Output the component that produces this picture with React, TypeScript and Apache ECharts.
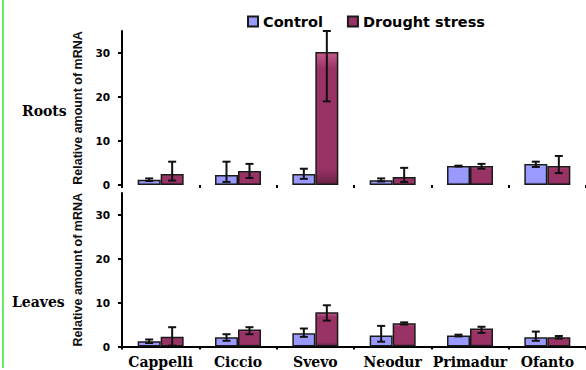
import React, { useEffect, useRef } from "react";
import * as echarts from "echarts";

const categories = ["Cappelli", "Ciccio", "Svevo", "Neodur", "Primadur", "Ofanto"];
const yTicks = [0, 10, 20, 30];

const rootsControl = [1.2, 2.3, 2.5, 1.1, 4.3, 4.8];
const rootsControlHi = [1.5, 5.3, 3.7, 1.5, 4.4, 5.3];
const rootsControlLo = [0.9, 0.7, 1.4, 0.8, 4.2, 4.1];
const rootsDrought = [2.5, 3.2, 30.2, 1.8, 4.3, 4.3];
const rootsDroughtHi = [5.3, 4.8, 35, 3.9, 4.8, 6.6];
const rootsDroughtLo = [1.0, 1.6, 19, 0.7, 3.7, 2.7];

const leavesControl = [1.2, 2.1, 3.0, 2.5, 2.5, 2.1];
const leavesControlHi = [1.6, 2.8, 4.1, 4.7, 2.7, 3.4];
const leavesControlLo = [0.8, 1.3, 2.2, 1.1, 2.3, 1.3];
const leavesDrought = [2.2, 3.9, 7.8, 5.3, 4.1, 2.1];
const leavesDroughtHi = [4.4, 4.4, 9.4, 5.5, 4.5, 2.4];
const leavesDroughtLo = [0.2, 2.8, 5.9, 5.0, 3.1, 1.8];

const BAR_W = 23;

function grad(top: string, base: string, bottom: string) {
  return new echarts.graphic.LinearGradient(0, 0, 0, 1, [
    { offset: 0, color: top },
    { offset: 0.12, color: base },
    { offset: 0.88, color: base },
    { offset: 1, color: bottom },
  ]);
}

const controlStyle = () => ({
  color: grad("#bcbcff", "#9999ff", "#6a6ab8"),
  borderColor: "#1a1a1a",
  borderWidth: 1.5,
});
const droughtStyle = () => ({
  color: grad("#c45a8a", "#993366", "#6a2246"),
  borderColor: "#1a1a1a",
  borderWidth: 1.5,
});

function errSeries(hi: number[], lo: number[], offset: number, idx: number) {
  return {
    type: "custom",
    xAxisIndex: idx,
    yAxisIndex: idx,
    z: 10,
    silent: true,
    data: hi.map((h, i) => [i, h, lo[i]]),
    encode: { x: 0, y: [1, 2] },
    renderItem: (params: any, api: any) => {
      const x = api.value(0);
      const pHi = api.coord([x, api.value(1)]);
      const pLo = api.coord([x, api.value(2)]);
      const cx = pHi[0] + offset;
      const cap = 4;
      const st = { stroke: "#111", lineWidth: 2 };
      return {
        type: "group",
        children: [
          { type: "line", shape: { x1: cx, y1: pHi[1], x2: cx, y2: pLo[1] }, style: st },
          { type: "line", shape: { x1: cx - cap, y1: pHi[1], x2: cx + cap, y2: pHi[1] }, style: st },
          { type: "line", shape: { x1: cx - cap, y1: pLo[1], x2: cx + cap, y2: pLo[1] }, style: st },
        ],
      };
    },
  };
}

function yAxis(idx: number) {
  return {
    type: "value",
    gridIndex: idx,
    min: 0,
    max: 35,
    interval: 5,
    name: "Relative amount of mRNA",
    nameLocation: "middle",
    nameRotate: 90,
    nameGap: 35,
    nameTextStyle: {
      fontFamily: "Liberation Sans",
      fontWeight: "bold",
      fontSize: 12.5,
      color: "#111",
    },
    axisLine: { show: true, lineStyle: { color: "#000", width: 2 } },
    axisTick: { show: true, length: 4, customValues: yTicks, lineStyle: { color: "#000", width: 2 } },
    axisLabel: {
      customValues: yTicks,
      margin: 12,
      fontFamily: "DejaVu Sans",
      fontWeight: "bold",
      fontSize: 10.5,
      color: "#000",
    },
    splitLine: { show: false },
  };
}

export default function App() {
  const ref = useRef<HTMLDivElement>(null);
  useEffect(() => {
    if (!ref.current) return;
    const chart = echarts.init(ref.current, undefined, { renderer: "svg" });
    chart.setOption({
      animation: false,
      backgroundColor: "#ffffff",
      legend: {
        left: 242,
        top: 9,
        icon: "rect",
        itemWidth: 10,
        itemHeight: 10,
        itemGap: 24,
        data: ["Control", "Drought stress"],
        textStyle: {
          fontFamily: "DejaVu Sans",
          fontWeight: "bold",
          fontSize: 14.5,
          color: "#000",
        },
      },
      grid: [
        { left: 122, top: 31, width: 466, height: 154 },
        { left: 122, top: 193, width: 466, height: 153.5 },
      ],
      xAxis: [
        {
          type: "category",
          gridIndex: 0,
          data: categories,
          axisLine: { show: false },
          axisTick: { show: true, length: 3, lineStyle: { color: "#000", width: 2 } },
          axisLabel: { show: false },
        },
        {
          type: "category",
          gridIndex: 1,
          data: categories,
          axisLine: { show: true, lineStyle: { color: "#000", width: 2 } },
          axisTick: { show: true, length: 3, lineStyle: { color: "#000", width: 2 } },
          axisLabel: {
            interval: 0,
            hideOverlap: false,
            margin: 8,
            fontFamily: "DejaVu Serif",
            fontWeight: "bold",
            fontSize: 14,
            color: "#000",
          },
        },
      ],
      yAxis: [yAxis(0), yAxis(1)],
      series: [
        {
          name: "Control",
          type: "bar",
          xAxisIndex: 0,
          yAxisIndex: 0,
          data: rootsControl,
          barWidth: BAR_W,
          barGap: "0%",
          itemStyle: controlStyle(),
        },
        {
          name: "Drought stress",
          type: "bar",
          xAxisIndex: 0,
          yAxisIndex: 0,
          data: rootsDrought,
          barWidth: BAR_W,
          barGap: "0%",
          itemStyle: droughtStyle(),
        },
        {
          name: "Control",
          type: "bar",
          xAxisIndex: 1,
          yAxisIndex: 1,
          data: leavesControl,
          barWidth: BAR_W,
          barGap: "0%",
          itemStyle: controlStyle(),
        },
        {
          name: "Drought stress",
          type: "bar",
          xAxisIndex: 1,
          yAxisIndex: 1,
          data: leavesDrought,
          barWidth: BAR_W,
          barGap: "0%",
          itemStyle: droughtStyle(),
        },
        errSeries(rootsControlHi, rootsControlLo, -BAR_W / 2, 0),
        errSeries(rootsDroughtHi, rootsDroughtLo, BAR_W / 2, 0),
        errSeries(leavesControlHi, leavesControlLo, -BAR_W / 2, 1),
        errSeries(leavesDroughtHi, leavesDroughtLo, BAR_W / 2, 1),
      ],
      graphic: [
        {
          type: "line",
          shape: { x1: 3, y1: 0, x2: 3, y2: 368 },
          style: { stroke: "#66ee66", lineWidth: 2 },
        },
        {
          type: "text",
          left: 22,
          top: 104,
          style: {
            text: "Roots",
            fontFamily: "DejaVu Serif",
            fontWeight: "bold",
            fontSize: 14,
            fill: "#000",
          },
        },
        {
          type: "text",
          left: 12,
          top: 295,
          style: {
            text: "Leaves",
            fontFamily: "DejaVu Serif",
            fontWeight: "bold",
            fontSize: 14,
            fill: "#000",
          },
        },
      ],
    });
    return () => chart.dispose();
  }, []);
  return (
    <div
      ref={ref}
      style={{ position: "fixed", left: 0, top: 0, width: 586, height: 370, background: "#fff" }}
    />
  );
}
